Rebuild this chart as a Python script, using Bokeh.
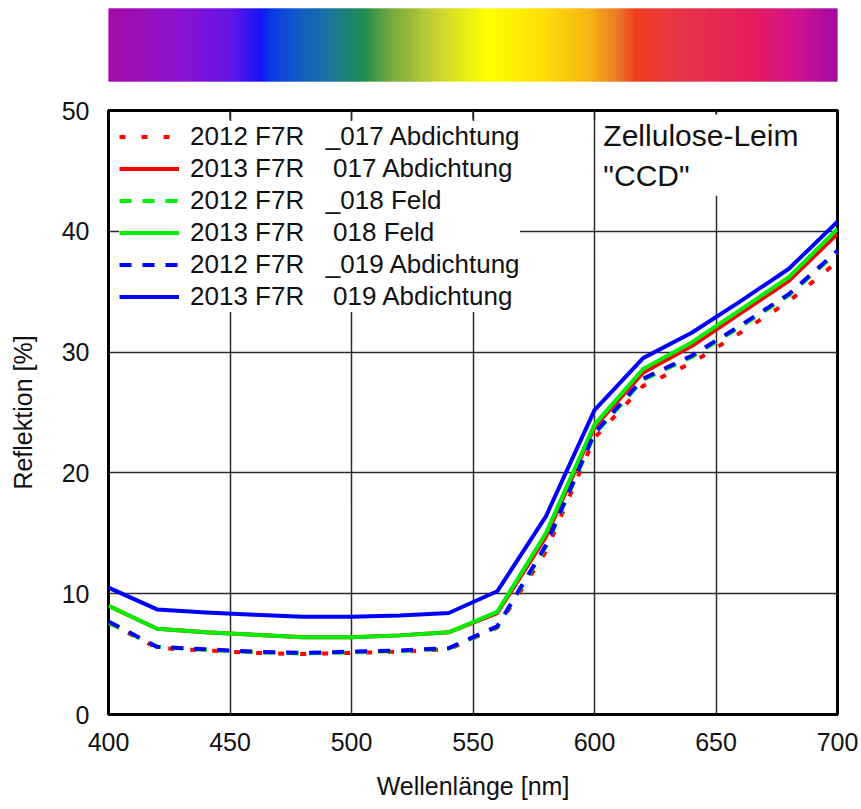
import numpy as np
from bokeh.plotting import figure
from bokeh.layouts import column
from bokeh.models import Legend, LegendItem, Label, FixedTicker, Range1d
from bokeh.embed import file_html
from bokeh.resources import INLINE

# ---- data -------------------------------------------------------------
wavelength = [400, 420, 440, 460, 480, 500, 520, 540, 560, 580, 600, 620, 640, 660, 680, 700]

r2012_017 = [7.6, 5.5, 5.3, 5.1, 5.0, 5.1, 5.2, 5.4, 7.2, 13.5, 22.9, 27.2, 29.1, 31.6, 34.2, 37.5]
r2013_017 = [9.0, 7.1, 6.8, 6.6, 6.4, 6.4, 6.55, 6.8, 8.4, 14.7, 23.8, 28.3, 30.5, 33.2, 35.9, 39.8]
r2012_018 = [7.6, 5.6, 5.35, 5.15, 5.05, 5.15, 5.25, 5.45, 7.25, 13.9, 23.2, 27.7, 29.6, 32.1, 34.7, 38.3]
r2013_018 = [9.0, 7.1, 6.8, 6.6, 6.4, 6.4, 6.55, 6.8, 8.5, 15.0, 24.0, 28.6, 30.8, 33.5, 36.2, 40.2]
r2012_019 = [7.7, 5.6, 5.4, 5.2, 5.1, 5.2, 5.3, 5.5, 7.3, 14.0, 23.3, 27.8, 29.7, 32.2, 34.8, 38.4]
r2013_019 = [10.5, 8.7, 8.45, 8.25, 8.1, 8.1, 8.2, 8.4, 10.2, 16.4, 25.2, 29.5, 31.6, 34.2, 36.9, 40.8]

series_labels = [
    "2012 F7R\u00a0\u00a0\u00a0_017 Abdichtung",
    "2013 F7R\u00a0\u00a0\u00a0\u00a0017 Abdichtung",
    "2012 F7R\u00a0\u00a0\u00a0_018 Feld",
    "2013 F7R\u00a0\u00a0\u00a0\u00a0018 Feld",
    "2012 F7R\u00a0\u00a0\u00a0_019 Abdichtung",
    "2013 F7R\u00a0\u00a0\u00a0\u00a0019 Abdichtung",
]
series_values = [r2012_017, r2013_017, r2012_018, r2013_018, r2012_019, r2013_019]

x_ticks = [400, 450, 500, 550, 600, 650, 700]
y_ticks = [0, 10, 20, 30, 40, 50]

# ---- styles -----------------------------------------------------------
FONT = "Liberation Sans"
series_colors = ["#FF0000", "#FF0000", "#00EE00", "#00EE00", "#0000FF", "#0000FF"]
series_dashes = ["6 16", "solid", "12 11", "solid", "12 11", "solid"]

# colour stops of the visible-spectrum strip (position along strip, colour)
strip_pos = [0.00, 0.10, 0.17, 0.21, 0.225, 0.27, 0.31, 0.35, 0.39, 0.45, 0.52,
             0.60, 0.66, 0.70, 0.725, 0.78, 0.88, 0.94, 1.00]
strip_col = ["#A50CA5", "#8C14D2", "#6414E6", "#1414F5", "#0A3CE6", "#1460C0",
             "#1A7896", "#1E8C50", "#78AA3C", "#C8D232", "#FFFF00", "#FFDC0A",
             "#F5B414", "#EB7828", "#F03C1E", "#E63746", "#E61E5A", "#D2148C",
             "#A50AA5"]

# ---- spectrum strip ---------------------------------------------------
n_cols = 365
edges = np.linspace(0.0, 1.0, n_cols + 1)
mids = 0.5 * (edges[:-1] + edges[1:])
rgb = np.array([[int(c[i:i + 2], 16) for i in (1, 3, 5)] for c in strip_col], dtype=float)
chan = [np.interp(mids, strip_pos, rgb[:, k]) for k in range(3)]
strip_colors = ["#%02x%02x%02x" % (int(round(r)), int(round(g)), int(round(b)))
                for r, g, b in zip(*chan)]

strip = figure(width=861, height=95, x_range=Range1d(0, 1), y_range=Range1d(0, 1),
               toolbar_location=None, output_backend="svg",
               x_axis_location=None, y_axis_location=None,
               min_border_left=107, min_border_right=23,
               min_border_top=8, min_border_bottom=14)
strip.quad(left=edges[:-1], right=edges[1:], bottom=0, top=1,
           fill_color=strip_colors, line_color=strip_colors, line_width=1)
strip.outline_line_color = None
strip.xgrid.visible = False
strip.ygrid.visible = False

# ---- main chart -------------------------------------------------------
p = figure(width=861, height=714, x_range=Range1d(400, 700), y_range=Range1d(0, 50),
           toolbar_location=None, output_backend="svg",
           min_border_left=108, min_border_right=24,
           min_border_top=15, min_border_bottom=95)

p.outline_line_color = "black"
p.outline_line_width = 3

p.xaxis.ticker = FixedTicker(ticks=x_ticks)
p.yaxis.ticker = FixedTicker(ticks=y_ticks)
p.xgrid.ticker = FixedTicker(ticks=x_ticks[1:-1])
p.ygrid.ticker = FixedTicker(ticks=y_ticks[1:-1])
for g in (p.xgrid, p.ygrid):
    g.grid_line_color = "#2a2a2a"
    g.grid_line_width = 1.5

for ax in (p.xaxis, p.yaxis):
    ax.axis_line_color = None
    ax.major_tick_in = 0
    ax.major_tick_out = 0
    ax.minor_tick_line_color = None
    ax.major_label_text_font = FONT
    ax.major_label_text_font_size = "25px"
    ax.major_label_text_color = "#111111"
    ax.axis_label_text_font = FONT
    ax.axis_label_text_font_size = "25px"
    ax.axis_label_text_font_style = "normal"
    ax.axis_label_text_color = "#111111"

p.xaxis.axis_label = "Wellenlänge [nm]"
p.yaxis.axis_label = "Reflektion [%]"
p.xaxis.major_label_standoff = 18
p.xaxis.axis_label_standoff = 18
p.yaxis.major_label_standoff = 19
p.yaxis.axis_label_standoff = 22

# short inner tick marks hanging from the top edge of the frame
tick_len = 0.75
p.segment(x0=x_ticks, x1=x_ticks, y0=y_ticks[-1], y1=y_ticks[-1] - tick_len,
          line_color="#2a2a2a", line_width=1.5)

items = []
for label, vals, color, dash in zip(series_labels, series_values, series_colors, series_dashes):
    r = p.line(wavelength, vals, line_color=color, line_width=4, line_dash=dash,
               line_join="round")
    items.append(LegendItem(label=label, renderers=[r]))

legend = Legend(items=items, location="top_left", margin=11, padding=0, spacing=1,
                glyph_width=60, glyph_height=29, label_height=29, label_standoff=11,
                label_text_font=FONT, label_text_font_size="26px",
                label_text_color="#111111",
                background_fill_color="white", background_fill_alpha=1.0,
                border_line_color=None)
p.add_layout(legend)

note = Label(x=602, y=50, text='Zellulose-Leim\n"CCD"', text_font=FONT,
             text_font_size="30px", text_color="#111111",
             text_align="left", text_baseline="top", text_line_height=1.22,
             y_offset=-4, padding=4,
             background_fill_color="white", background_fill_alpha=1.0)
p.add_layout(note)

layout = column(strip, p, spacing=0)
open("out.html", "w").write(file_html(layout, INLINE))
